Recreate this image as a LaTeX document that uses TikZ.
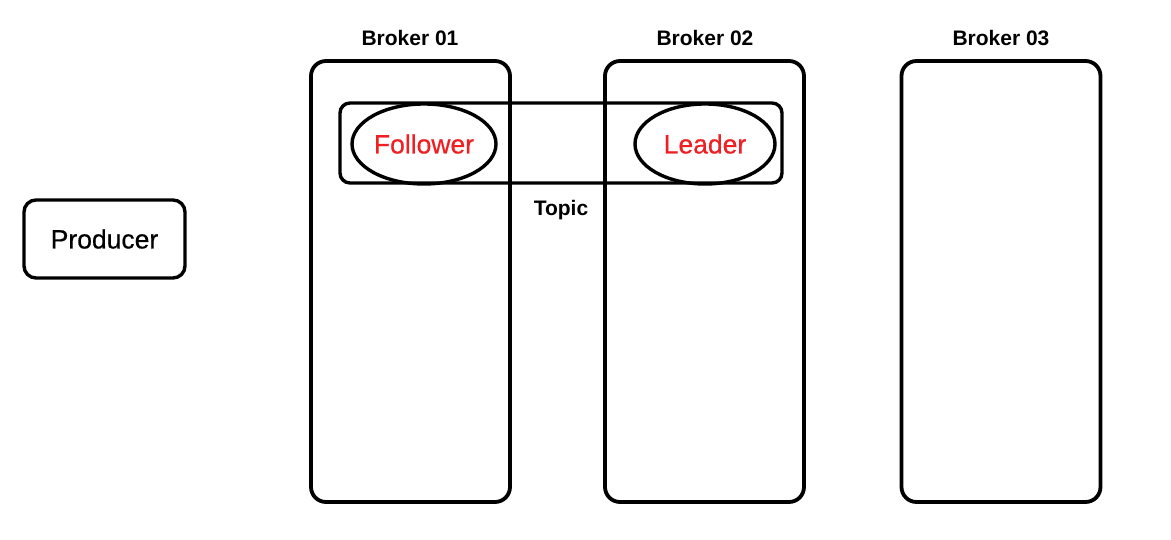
\documentclass[tikz,border=0pt]{standalone}
\usepackage{fontspec}
\setmainfont{Liberation Sans}
\newfontfamily\medfont[FakeBold=0.6]{Liberation Sans}
\usetikzlibrary{shapes.geometric}
\definecolor{redtext}{RGB}{238,32,36}
\tikzset{
  brokerbox/.style={draw, line width=3.8pt, rounded corners=15pt, minimum width=199pt, minimum height=441pt, inner sep=0pt},
  brokerlabel/.style={font=\fontsize{21}{25}\selectfont\bfseries, inner sep=0pt},
  topicbox/.style={draw, line width=3.4pt, rounded corners=10pt, minimum width=442pt, minimum height=80pt, inner sep=0pt},
  replica/.style={draw, ellipse, line width=3.4pt, inner sep=0pt, text=redtext, font=\medfont\fontsize{26.5}{30}\selectfont},
  prodbox/.style={draw, line width=3.4pt, rounded corners=12pt, minimum width=161pt, minimum height=78pt, inner sep=0pt, font=\medfont\fontsize{26.5}{30}\selectfont},
}
\begin{document}
\begin{tikzpicture}[x=1pt,y=-1pt]
\useasboundingbox (0,0) rectangle (1171,540);
\node[brokerbox] (b1) at (410.5,281.5) {};
\node[brokerbox] (b2) at (704.5,281.5) {};
\node[brokerbox] (b3) at (1001,281.5) {};
\node[brokerlabel] (l1) at (410,38) {Broker 01};
\node[brokerlabel] (l2) at (705,38) {Broker 02};
\node[brokerlabel] (l3) at (1001,38) {Broker 03};
\node[topicbox] (topic) at (561,143) {};
\node[brokerlabel] (tl) at (561,210) {Topic};
\node[replica, minimum width=144pt, minimum height=80pt] (fol) at (424,144) {Follower};
\node[replica, minimum width=140pt, minimum height=80pt] (lead) at (705,144) {Leader};
\node[prodbox] (prod) at (104.5,239) {Producer};
\end{tikzpicture}
\end{document}
